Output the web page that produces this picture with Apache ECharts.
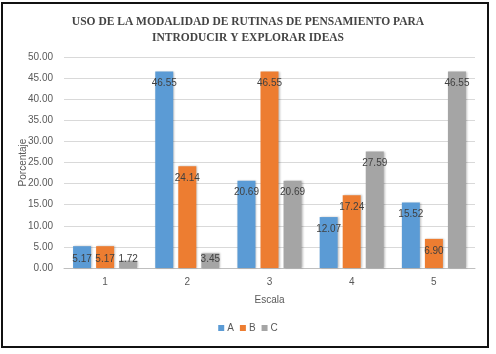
<!DOCTYPE html>
<html>
<head>
<meta charset="utf-8">
<script src="https://cdn.jsdelivr.net/npm/echarts@6/dist/echarts.min.js"></script>
<style>
  html, body { margin: 0; padding: 0; background: #fff; }
  #frame {
    position: absolute; left: 1px; top: 2px; width: 484px; height: 342px;
    border: 2px solid #111; background: #fff;
  }
  #chart { position: absolute; left: 0; top: 0; width: 496px; height: 354px; }
</style>
</head>
<body>
<div id="frame"></div>
<div id="chart"></div>
<script>
const categories = ['1', '2', '3', '4', '5']
const seriesA = [5.17, 46.55, 20.69, 12.07, 15.52]
const seriesB = [5.17, 24.14, 46.55, 17.24, 6.90]
const seriesC = [1.72, 3.45, 20.69, 27.59, 46.55]
const seriesNames = ['A', 'B', 'C']
const colors = ['#5B9BD5', '#ED7D31', '#A5A5A5']

const chart = echarts.init(document.getElementById('chart'), null, { renderer: 'canvas' })

// short bars keep their label sitting near the base, like Excel does
function barData(values) {
  return values.map(v => v < 6
    ? { value: v, label: { position: 'insideBottom', distance: 4 } }
    : v)
}

function barSeries(name, data, color) {
  return {
    name,
    type: 'bar',
    data: barData(data),
    barWidth: 18,
    barGap: '28%',
    itemStyle: {
      color,
      shadowColor: 'rgba(0,0,0,0.25)',
      shadowBlur: 2,
      shadowOffsetX: 1,
      shadowOffsetY: 0,
    },
    label: {
      show: true,
      position: 'insideTop',
      distance: 7,
      color: '#404040',
      fontSize: 10,
      fontFamily: 'Liberation Sans',
      formatter: p => p.value.toFixed(2),
    },
  }
}

const option = {
  animation: false,
  backgroundColor: 'transparent',
  color: colors,
  title: {
    text: 'USO DE LA MODALIDAD DE RUTINAS DE PENSAMIENTO PARA\nINTRODUCIR Y EXPLORAR IDEAS',
    left: 'center',
    top: 9,
    textStyle: {
      fontFamily: 'Liberation Serif',
      fontWeight: 'bold',
      fontSize: 11.5,
      color: '#444',
      lineHeight: 16,
    },
  },
  legend: {
    data: seriesNames,
    bottom: 16,
    left: 'center',
    itemWidth: 6,
    itemHeight: 6,
    itemGap: 6,
    icon: 'rect',
    textStyle: { fontSize: 10, color: '#595959', fontFamily: 'Liberation Sans', padding: [0, 0, 0, -2] },
  },
  grid: { left: 64, right: 21, top: 57, bottom: 86 },
  xAxis: {
    type: 'category',
    data: categories,
    name: 'Escala',
    nameLocation: 'middle',
    nameGap: 27,
    nameTextStyle: { fontSize: 10, color: '#595959', fontFamily: 'Liberation Sans' },
    axisLine: { lineStyle: { color: '#bfbfbf' } },
    axisTick: { show: false },
    axisLabel: { fontSize: 10, color: '#595959', margin: 9, fontFamily: 'Liberation Sans' },
  },
  yAxis: {
    type: 'value',
    min: 0,
    max: 50,
    interval: 5,
    name: 'Porcentaje',
    nameLocation: 'middle',
    nameGap: 36,
    nameMoveOverlap: false,
    nameTextStyle: { fontSize: 10, color: '#595959', fontFamily: 'Liberation Sans' },
    axisLine: { show: false },
    axisTick: { show: false },
    axisLabel: {
      fontSize: 10, color: '#595959', margin: 11, fontFamily: 'Liberation Sans',
      formatter: v => v.toFixed(2),
    },
    splitLine: { lineStyle: { color: '#d9d9d9' } },
  },
  series: [
    barSeries(seriesNames[0], seriesA, colors[0]),
    barSeries(seriesNames[1], seriesB, colors[1]),
    barSeries(seriesNames[2], seriesC, colors[2]),
  ],
}

chart.setOption(option)
window.addEventListener('resize', () => chart.resize())
</script>
</body>
</html>
